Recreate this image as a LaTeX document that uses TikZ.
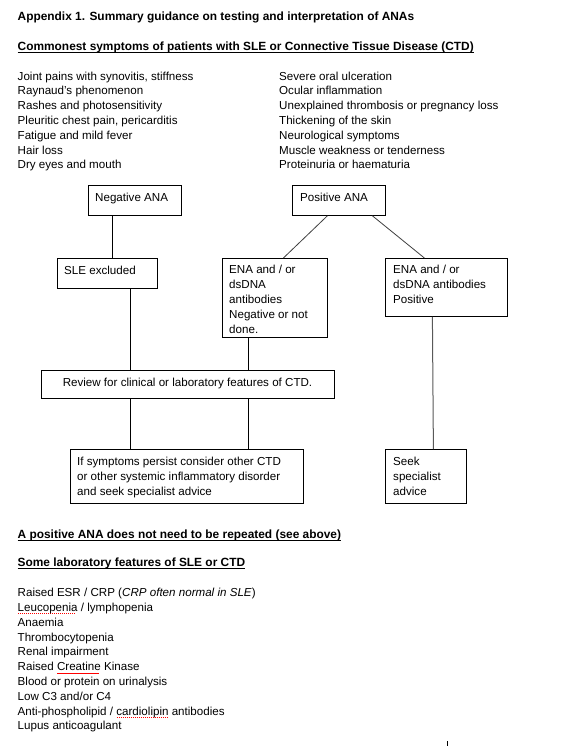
\documentclass[tikz,border=0pt]{standalone}
\usepackage{fontspec}
\setmainfont{Liberation Sans}
\newcommand\txtsize{\fontsize{11.6}{14.8}\selectfont}
\newcommand\hdsize{\fontsize{11.9}{14.8}\selectfont}
\newcommand\boxsize{\fontsize{11.6}{15}\selectfont}
\newcommand\mylines[1]{\begin{tabular}[t]{@{}l@{}}#1\end{tabular}}
\newcommand\spell[1]{\setbox0\hbox{#1}\rlap{\color{red}\raisebox{-2.6pt}{\hbox to \wd0{\leaders\hbox to 2pt{\hss\rule{1.1pt}{0.7pt}\hss}\hfill}}}\box0\relax}
\tikzset{
  txt/.style={inner sep=0pt, anchor=base west, font=\txtsize},
  hd/.style={inner sep=0pt, anchor=base west, font=\hdsize\bfseries},
  btxt/.style={inner sep=0pt, anchor=base west, font=\boxsize},
  box/.style={draw, line width=0.8pt, inner sep=0pt, anchor=north west},
  conn/.style={line width=0.8pt},
  uline/.style={line width=0.9pt}
}
\begin{document}
\begin{tikzpicture}[x=1pt,y=-1pt]
\useasboundingbox (0,0) rectangle (562,747);
\fill[white] (0,0) rectangle (562,747);

% headings
\node[hd] (title) at (17.5,20.7) {Appendix 1. Summary guidance on testing and interpretation of ANAs};
\node[hd] (h2) at (17.5,50) {Commonest symptoms of patients with SLE or Connective Tissue Disease (CTD)};
\draw[uline] ([yshift=-2pt]h2.base west) -- ([yshift=-2pt]h2.base east);

% symptom lists
\node[txt] (symL) at (17.5,80) {\mylines{Joint pains with synovitis, stiffness\\Raynaud's phenomenon\\Rashes and photosensitivity\\Pleuritic chest pain, pericarditis\\Fatigue and mild fever\\Hair loss\\Dry eyes and mouth}};
\node[txt] (symR) at (279,80) {\mylines{Severe oral ulceration\\Ocular inflammation\\Unexplained thrombosis or pregnancy loss\\Thickening of the skin\\Neurological symptoms\\Muscle weakness or tenderness\\Proteinuria or haematuria}};

% boxes
\node[box, minimum width=93pt, minimum height=30pt] (neg) at (88,185) {};
\node[btxt] (negt) at (95,201.7) {Negative ANA};
\node[box, minimum width=93pt, minimum height=30pt] (pos) at (292,185) {};
\node[btxt] (post) at (300,201.7) {Positive ANA};
\node[box, minimum width=100pt, minimum height=30pt] (sle) at (57,258) {};
\node[btxt] (slet) at (64,274.3) {SLE excluded};
\node[box, minimum width=105pt, minimum height=79pt] (enan) at (222,258) {};
\node[btxt] (enant) at (229,273.3) {\mylines{ENA and / or\\dsDNA\\antibodies\\Negative or not\\done.}};
\node[box, minimum width=122pt, minimum height=58pt] (enap) at (385,258) {};
\node[btxt] (enapt) at (393,273.3) {\mylines{ENA and / or\\dsDNA antibodies\\Positive}};
\node[box, minimum width=293pt, minimum height=28pt] (review) at (41,370) {};
\node[btxt, anchor=base] (reviewt) at (187.5,386.7) {Review for clinical or laboratory features of CTD.};
\node[box, minimum width=233pt, minimum height=54pt] (ifs) at (70,449) {};
\node[btxt] (ifst) at (77,465) {\mylines{If symptoms persist consider other CTD\\or other systemic inflammatory disorder\\and seek specialist advice}};
\node[box, minimum width=81pt, minimum height=54pt] (seek) at (385,449) {};
\node[btxt] (seekt) at (393,465) {\mylines{Seek\\specialist\\advice}};

% connectors
\draw[conn] ([xshift=-22.5pt]neg.south) -- ([xshift=5pt]sle.north);
\draw[conn, black!75] ([xshift=-11.5pt]pos.south) -- ([xshift=8.5pt]enan.north);
\draw[conn, black!75] ([xshift=33.5pt]pos.south) -- ([xshift=-22pt]enap.north);
\draw[conn] ([xshift=23pt]sle.south) -- ([xshift=-57.5pt]review.north);
\draw[conn] ([xshift=-26.5pt]enan.south) -- ([xshift=60.5pt]review.north);
\draw[conn] ([xshift=-57.5pt]review.south) -- ([xshift=-56.5pt]ifs.north);
\draw[conn] ([xshift=60.5pt]review.south) -- ([xshift=61.5pt]ifs.north);
\draw[conn, black!65, line width=1pt] ([xshift=-14pt]enap.south) -- ([xshift=7.5pt]seek.north);

% bottom section
\node[hd] (h3) at (17.5,538.3) {A positive ANA does not need to be repeated (see above)};
\draw[uline] ([yshift=-2pt]h3.base west) -- ([yshift=-2pt]h3.base east);
\node[hd] (h4) at (17.5,566.7) {Some laboratory features of SLE or CTD};
\draw[uline] ([yshift=-2pt]h4.base west) -- ([yshift=-2pt]h4.base east);
\node[txt] (lab) at (17.5,596.7) {\mylines{Raised ESR / CRP (\textit{CRP often normal in SLE})\\\spell{Leucopenia} / lymphopenia\\Anaemia\\Thrombocytopenia\\Renal impairment\\Raised \spell{Creatine} Kinase\\Blood or protein on urinalysis\\Low C3 and/or C4\\Anti-phospholipid / \spell{cardiolipin} antibodies\\Lupus anticoagulant}};

% stray mark
\draw[line width=0.7pt] (447,741) -- (447,746);
\end{tikzpicture}
\end{document}
